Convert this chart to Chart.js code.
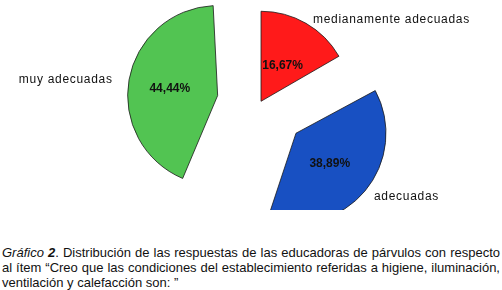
<!DOCTYPE html>
<html>
<head>
<meta charset="utf-8">
<script src="https://cdn.jsdelivr.net/npm/chart.js@4.4.1/dist/chart.umd.min.js"></script>
<style>
  html, body { margin: 0; padding: 0; background: #fff; }
  body { width: 502px; height: 290px; position: relative; overflow: hidden; font-family: "Liberation Sans", Arial, sans-serif; }
  #wrap { position: absolute; left: 0; top: 0; width: 502px; height: 210px; }
  #cap { position: absolute; left: 2px; top: 245px; width: 498px; font-size: 13px; line-height: 15px; color: #111; text-align: justify; }
</style>
</head>
<body>
<div id="wrap"><canvas id="c" width="502" height="210"></canvas></div>
<div id="cap"><i>Gráfico <b>2</b></i>. Distribución de las respuestas de las educadoras de párvulos con respecto al ítem “Creo que las condiciones del establecimiento referidas a higiene, iluminación, ventilación y calefacción son: ”</div>
<script>
const categories = ["medianamente adecuadas", "adecuadas", "muy adecuadas"];
const values = [16.67, 38.89, 44.44];
const percentLabels = ["16,67%", "38,89%", "44,44%"];
const sliceColors = ["#FF1A1A", "#1850C2", "#52C452"];
const explode = [8, 188, 172];
const R = 90;

function arcShift(i, circ) {
  const off = (explode[i] || 0) / 4;
  const fix = 1 - Math.sin(Math.min(Math.PI, circ || 0));
  return { off, grow: off * fix };
}

const radiusFix = {
  id: 'radiusFix',
  beforeDatasetsDraw(chart) {
    const meta = chart.getDatasetMeta(0);
    meta.data.forEach((arc, i) => {
      const s = arcShift(i, arc.circumference);
      arc.outerRadius = R - s.grow;
    });
  }
};

const labelPlugin = {
  id: 'sliceLabels',
  afterDatasetsDraw(chart) {
    const ctx = chart.ctx;
    const meta = chart.getDatasetMeta(0);
    const ext = [
      { dx: 52, dy: -82, align: 'left' },
      { dx: 78, dy: 63, align: 'left' },
      { dx: -105, dy: -16, align: 'right' }
    ];
    const inner = [0.48, 0.49, 0.54];
    meta.data.forEach((arc, i) => {
      const mid = (arc.startAngle + arc.endAngle) / 2;
      const s = arcShift(i, arc.circumference);
      const ax = arc.x + Math.cos(mid) * s.off;
      const ay = arc.y + Math.sin(mid) * s.off;
      const r = R * inner[i];
      ctx.save();
      ctx.fillStyle = '#111';
      ctx.font = 'bold 12px "Liberation Sans", Arial, sans-serif';
      ctx.textAlign = 'center';
      ctx.textBaseline = 'middle';
      ctx.fillText(percentLabels[i], ax + Math.cos(mid) * r, ay + Math.sin(mid) * r + 2);
      ctx.font = '12px "Liberation Sans", Arial, sans-serif';
      ctx.letterSpacing = '0.7px';
      ctx.textAlign = ext[i].align;
      ctx.fillText(categories[i], ax + ext[i].dx, ay + ext[i].dy);
      ctx.restore();
    });
  }
};

new Chart(document.getElementById('c'), {
  type: 'pie',
  data: {
    labels: categories,
    datasets: [{
      data: values,
      backgroundColor: sliceColors,
      borderColor: '#1a1a1a',
      borderWidth: 0.8,
      offset: explode,
      radius: R,
      clip: false
    }]
  },
  options: {
    responsive: false,
    devicePixelRatio: 1,
    animation: false,
    events: [],
    layout: { padding: { left: 18, right: 0, top: 0, bottom: 4 } },
    plugins: { legend: { display: false }, tooltip: { enabled: false } }
  },
  plugins: [radiusFix, labelPlugin]
});
</script>
</body>
</html>
